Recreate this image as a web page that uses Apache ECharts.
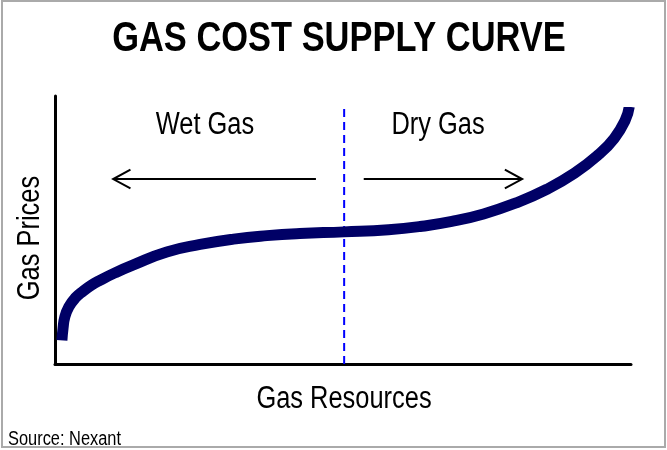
<!DOCTYPE html>
<html>
<head>
<meta charset="utf-8">
<script src="https://cdn.jsdelivr.net/npm/echarts@6/dist/echarts.min.js"></script>
<style>
  html, body { margin: 0; padding: 0; background: #fff; }
  #container { width: 667px; height: 450px; }
</style>
</head>
<body>
<div id="container"></div>
<script>
var dom = document.getElementById("container");
var myChart = echarts.init(dom);
var option;

// Arial Narrow look: Liberation Sans squeezed to 82%
var FONT = "'Liberation Sans', Arial, sans-serif";
var NARROW = 0.82;

// supply curve (resources 0-100, price 0-100)
var curveX = [1.2, 1.4, 1.7, 2.4, 3.5, 4.9, 6.4, 7.8, 10.4, 13.5, 19.4, 25.2, 31.0, 36.8, 42.5, 50.2, 57.9, 63.4, 68.9, 74.4, 79.9, 85.4, 90.2, 94.3, 97.1, 99.0, 99.7];
var curveY = [8.8, 13.4, 17.5, 21.3, 24.6, 27.2, 29.5, 31.2, 34.0, 36.9, 41.8, 44.6, 46.6, 47.9, 48.7, 49.3, 50.1, 51.3, 53.2, 56.0, 60.0, 65.2, 71.2, 78.0, 84.2, 91.0, 96.0];

// divider between wet and dry gas
var dividerX = 50.2;
var dividerTop = 96.5;

// arrows: [tail x, head x], drawn at arrowY
var arrowY = 69.0;
var wetArrow = [45.3, 10.1];
var dryArrow = [53.6, 81.1];
var headLen = 3.0;
var headRise = 3.5;

var labels = ["Wet Gas", "Dry Gas"];
var titleText = "GAS COST SUPPLY CURVE";
var xName = "Gas Resources";
var yName = "Gas Prices";
var sourceText = "Source: Nexant";

var curveData = curveX.map(function (x, i) {
  return [x, curveY[i]];
});

function arrowCoords(a) {
  var dir = a[1] > a[0] ? -1 : 1;
  return [
    { coords: [[a[0], arrowY], [a[1], arrowY]] },
    { coords: [[a[1] + dir * headLen, arrowY + headRise], [a[1], arrowY], [a[1] + dir * headLen, arrowY - headRise]] },
  ];
}

function narrowText(str, x, y, size, opts) {
  opts = opts || {};
  return {
    type: "text",
    x: x,
    y: y,
    scaleX: NARROW,
    rotation: opts.rotation || 0,
    style: {
      text: str,
      font: (opts.bold ? "bold " : "") + size + "px " + FONT,
      fill: "#000",
      align: opts.align || "center",
      verticalAlign: "middle",
    },
  };
}

option = {
  animation: false,
  backgroundColor: "#fff",
  grid: { left: 55, right: 36, top: 96, bottom: 86, outerBoundsMode: "none", containLabel: false },
  xAxis: {
    type: "value",
    min: 0,
    max: 100,
    axisLine: { lineStyle: { color: "#000", width: 3 } },
    axisTick: { show: false },
    axisLabel: { show: false },
    splitLine: { show: false },
  },
  yAxis: {
    type: "value",
    min: 0,
    max: 100,
    axisLine: { show: true, lineStyle: { color: "#000", width: 3 } },
    axisTick: { show: false },
    axisLabel: { show: false },
    splitLine: { show: false },
  },
  graphic: [
    {
      type: "rect",
      shape: { x: 2, y: 1, width: 663, height: 446 },
      style: { fill: "none", stroke: "#aaa", lineWidth: 2 },
    },
    narrowText(titleText, 339, 39, 42, { bold: true }),
    narrowText(labels[0], 205, 125, 31),
    narrowText(labels[1], 438, 125, 31),
    narrowText(xName, 344, 399, 31),
    narrowText(yName, 30, 238, 31, { rotation: Math.PI / 2 }),
    narrowText(sourceText, 8, 439, 20, { align: "left" }),
  ],
  series: [
    {
      type: "line",
      data: [[dividerX, 0], [dividerX, dividerTop]],
      symbol: "none",
      lineStyle: { color: "#0000ff", width: 2, type: [8, 5] },
      z: 1,
    },
    {
      type: "lines",
      coordinateSystem: "cartesian2d",
      polyline: true,
      data: arrowCoords(wetArrow).concat(arrowCoords(dryArrow)),
      lineStyle: { color: "#000", width: 2, opacity: 1 },
      z: 2,
    },
    {
      type: "line",
      data: curveData,
      smooth: true,
      symbol: "none",
      lineStyle: { color: "#000066", width: 11, cap: "butt", join: "round" },
      z: 3,
    },
  ],
};

myChart.setOption(option);
</script>
</body>
</html>
